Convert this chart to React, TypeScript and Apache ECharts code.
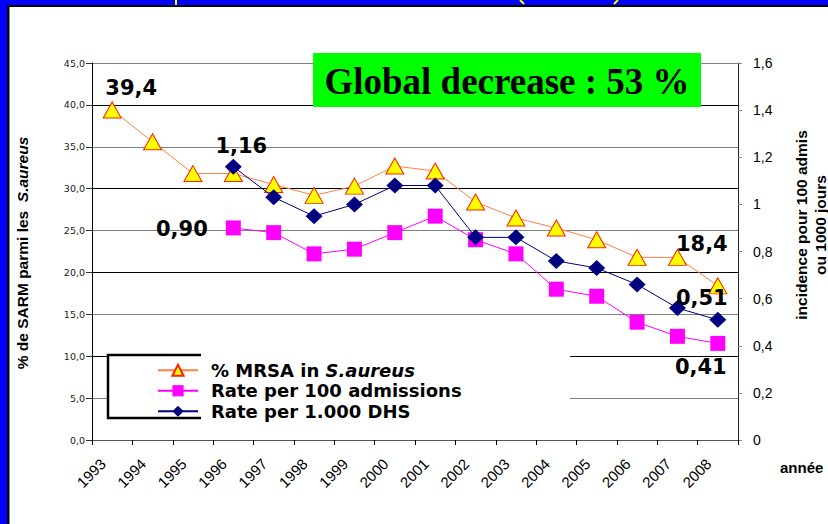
import React, { useEffect, useRef } from "react";
import * as echarts from "echarts";

const years = ["1993", "1994", "1995", "1996", "1997", "1998", "1999", "2000", "2001", "2002", "2003", "2004", "2005", "2006", "2007", "2008"];
const mrsaPct = [39.4, 35.6, 31.8, 31.8, 30.5, 29.2, 30.3, 32.7, 32.1, 28.4, 26.5, 25.3, 23.9, 21.8, 21.8, 18.4];
const ratePer100Adm = [null, null, null, 0.9, 0.88, 0.79, 0.81, 0.88, 0.95, 0.85, 0.79, 0.64, 0.61, 0.5, 0.44, 0.41];
const ratePer1000DHS = [null, null, null, 1.16, 1.03, 0.95, 1.0, 1.08, 1.08, 0.86, 0.86, 0.76, 0.73, 0.66, 0.56, 0.51];
const leftTicks = { min: 0, max: 45, interval: 5 };
const rightTicks = { min: 0, max: 1.6, interval: 0.2 };
const seriesNames = ["% MRSA in S.aureus", "Rate per 100 admissions", "Rate per 1.000 DHS"];
const headline = "Global decrease : 53 %";

const comma = (v: number, d: number) => v.toFixed(d).replace(".", ",");

const labelFont = { fontFamily: "DejaVu Sans", fontWeight: "bold", fontSize: 21, color: "#000" };

function withLabels(values: (number | null)[], specs: Record<number, any>, decimals: number) {
  return values.map((v, i) => {
    if (v === null) return null;
    const s = specs[i];
    if (!s) return v;
    return {
      value: v,
      label: {
        show: true,
        ...labelFont,
        ...s,
        formatter: (p: any) => comma(p.value, decimals),
      },
    };
  });
}

export default function App() {
  const ref = useRef<HTMLDivElement>(null);
  useEffect(() => {
    document.body.style.margin = "0";
    const chart = echarts.init(ref.current!, null, { renderer: "svg" });
    const option: any = {
      animation: false,
      backgroundColor: "#fff",
      grid: { left: 92, right: 90, top: 63, bottom: 84, containLabel: false },
      legend: {
        orient: "vertical",
        left: 152,
        top: 355,
        itemWidth: 40,
        itemHeight: 14,
        itemGap: 0,
        selectedMode: false,
        z: 6,
        data: seriesNames,
        formatter: (name: string) =>
          name === seriesNames[0] ? "{n|% MRSA in }{i|S.aureus}" : "{n|" + name + "}",
        textStyle: {
          padding: [0, 0, 0, 8],
          lineHeight: 20.5,
          rich: {
            n: { fontFamily: "DejaVu Sans", fontWeight: "bold", fontSize: 18, color: "#000", lineHeight: 20.5 },
            i: { fontFamily: "DejaVu Sans", fontWeight: "bold", fontStyle: "italic", fontSize: 18, color: "#000", lineHeight: 20.5 },
          },
        },
      },
      xAxis: {
        type: "category",
        data: years,
        boundaryGap: true,
        axisLine: { lineStyle: { color: "#555", width: 1 } },
        axisTick: { show: true, length: 5, lineStyle: { color: "#000" } },
        axisLabel: {
          rotate: 45,
          margin: 12,
          padding: [0, 13, 0, 0],
          fontFamily: "Liberation Sans",
          fontSize: 15,
          color: "#000",
          interval: 0,
        },
        splitLine: { show: false },
      },
      yAxis: [
        {
          type: "value",
          ...leftTicks,
          position: "left",
          axisLine: { show: true, lineStyle: { color: "#000", width: 1 } },
          axisTick: { show: true, length: 6, lineStyle: { color: "#333" } },
          axisLabel: {
            margin: 7,
            fontFamily: "DejaVu Sans",
            fontSize: 9.5,
            color: "#222",
            formatter: (v: number) => comma(v, 1),
          },
          splitLine: { show: true, lineStyle: { color: ["#000000", "#808080"], width: 1 } },
        },
        {
          type: "value",
          ...rightTicks,
          position: "right",
          axisLine: { show: true, lineStyle: { color: "#222", width: 1 } },
          axisTick: { show: true, length: 4, lineStyle: { color: "#888" } },
          axisLabel: {
            margin: 15,
            fontFamily: "Liberation Sans",
            fontSize: 14,
            color: "#000",
            formatter: (v: number) => String(Math.round(v * 10) / 10).replace(".", ","),
          },
          splitLine: { show: false },
        },
      ],
      series: [
        {
          name: seriesNames[0],
          type: "line",
          yAxisIndex: 0,
          z: 2,
          data: withLabels(
            mrsaPct,
            {
              0: { position: "top", distance: 5, offset: [19, 2] },
              15: { position: "top", distance: 5, offset: [-16, -18] },
            },
            1
          ),
          symbol: "triangle",
          symbolSize: [18, 16],
          lineStyle: { color: "#FF8040", width: 1 },
          itemStyle: { color: "#FFFF00", borderColor: "#FF2000", borderWidth: 1 },
          connectNulls: false,
        },
        {
          name: seriesNames[1],
          type: "line",
          yAxisIndex: 1,
          z: 3,
          data: withLabels(
            ratePer100Adm,
            {
              3: { position: "left", distance: 18, offset: [0, 1] },
              15: { position: "bottom", distance: 5, offset: [-17, 1] },
            },
            2
          ),
          symbol: "rect",
          symbolSize: 15,
          lineStyle: { color: "#FF00FF", width: 1 },
          itemStyle: { color: "#FF00FF" },
        },
        {
          name: seriesNames[2],
          type: "line",
          yAxisIndex: 1,
          z: 4,
          data: withLabels(
            ratePer1000DHS,
            {
              3: { position: "top", distance: 5, offset: [8, 3] },
              15: { position: "top", distance: 5, offset: [-16, 2] },
            },
            2
          ),
          symbol: "diamond",
          symbolSize: [17, 16],
          lineStyle: { color: "#000080", width: 1 },
          itemStyle: { color: "#000080" },
        },
      ],
      graphic: [
        { type: "rect", z: 10, shape: { x: 0, y: 0, width: 828, height: 5 }, style: { fill: "#0000FF" } },
        { type: "rect", z: 10, shape: { x: 0, y: 0, width: 7, height: 524 }, style: { fill: "#0000FF" } },
        { type: "rect", z: 10, shape: { x: 7, y: 5, width: 821, height: 2 }, style: { fill: "#000" } },
        { type: "rect", z: 10, shape: { x: 7, y: 5, width: 2.5, height: 519 }, style: { fill: "#000" } },
        { type: "line", z: 11, shape: { x1: 176, y1: 0, x2: 176, y2: 5 }, style: { stroke: "#FFFF00", lineWidth: 2 } },
        { type: "line", z: 11, shape: { x1: 520, y1: 0, x2: 524, y2: 4 }, style: { stroke: "#FFFF00", lineWidth: 2 } },
        { type: "line", z: 11, shape: { x1: 618, y1: 0, x2: 614, y2: 4 }, style: { stroke: "#FFFF00", lineWidth: 2 } },
        { type: "rect", z: 5, shape: { x: 313, y: 53, width: 388, height: 54 }, style: { fill: "#00FF00" } },
        {
          type: "text",
          z: 6,
          x: 507,
          y: 81,
          style: {
            text: headline,
            fontFamily: "Liberation Serif",
            fontWeight: "bold",
            fontSize: 37,
            fill: "#000",
            align: "center",
            textAlign: "center",
            verticalAlign: "middle",
            textVerticalAlign: "middle",
          },
        },
        { type: "rect", z: 1, shape: { x: 108, y: 353, width: 462, height: 67 }, style: { fill: "#fff" } },
        {
          type: "polyline",
          z: 5,
          shape: { points: [[201, 355], [108, 355], [108, 418], [201, 418]] },
          style: { stroke: "#000", lineWidth: 2.5, fill: null },
        },
        {
          type: "text",
          z: 6,
          x: 22,
          y: 253,
          rotation: Math.PI / 2,
          style: {
            text: "{b|% de SARM parmi les  }{i|S.aureus}",
            rich: {
              b: { fontFamily: "Liberation Sans", fontWeight: "bold", fontSize: 15.5, fill: "#000" },
              i: { fontFamily: "Liberation Sans", fontWeight: "bold", fontStyle: "italic", fontSize: 15.5, fill: "#000" },
            },
            align: "center",
            textAlign: "center",
            verticalAlign: "middle",
            textVerticalAlign: "middle",
          },
        },
        {
          type: "text",
          z: 6,
          x: 811,
          y: 225,
          rotation: Math.PI / 2,
          style: {
            text: "incidence pour 100 admis\nou 1000 jours",
            fontFamily: "Liberation Sans",
            fontWeight: "bold",
            fontSize: 15.5,
            lineHeight: 19,
            fill: "#000",
            align: "center",
            textAlign: "center",
            verticalAlign: "middle",
            textVerticalAlign: "middle",
          },
        },
        {
          type: "text",
          z: 6,
          x: 780,
          y: 467,
          style: {
            text: "année",
            fontFamily: "Liberation Sans",
            fontWeight: "bold",
            fontSize: 15,
            fill: "#000",
            align: "left",
            textAlign: "left",
            verticalAlign: "middle",
            textVerticalAlign: "middle",
          },
        },
      ],
    };
    chart.setOption(option);
    return () => chart.dispose();
  }, []);
  return <div ref={ref} style={{ position: "absolute", left: 0, top: 0, width: 828, height: 524 }} />;
}
